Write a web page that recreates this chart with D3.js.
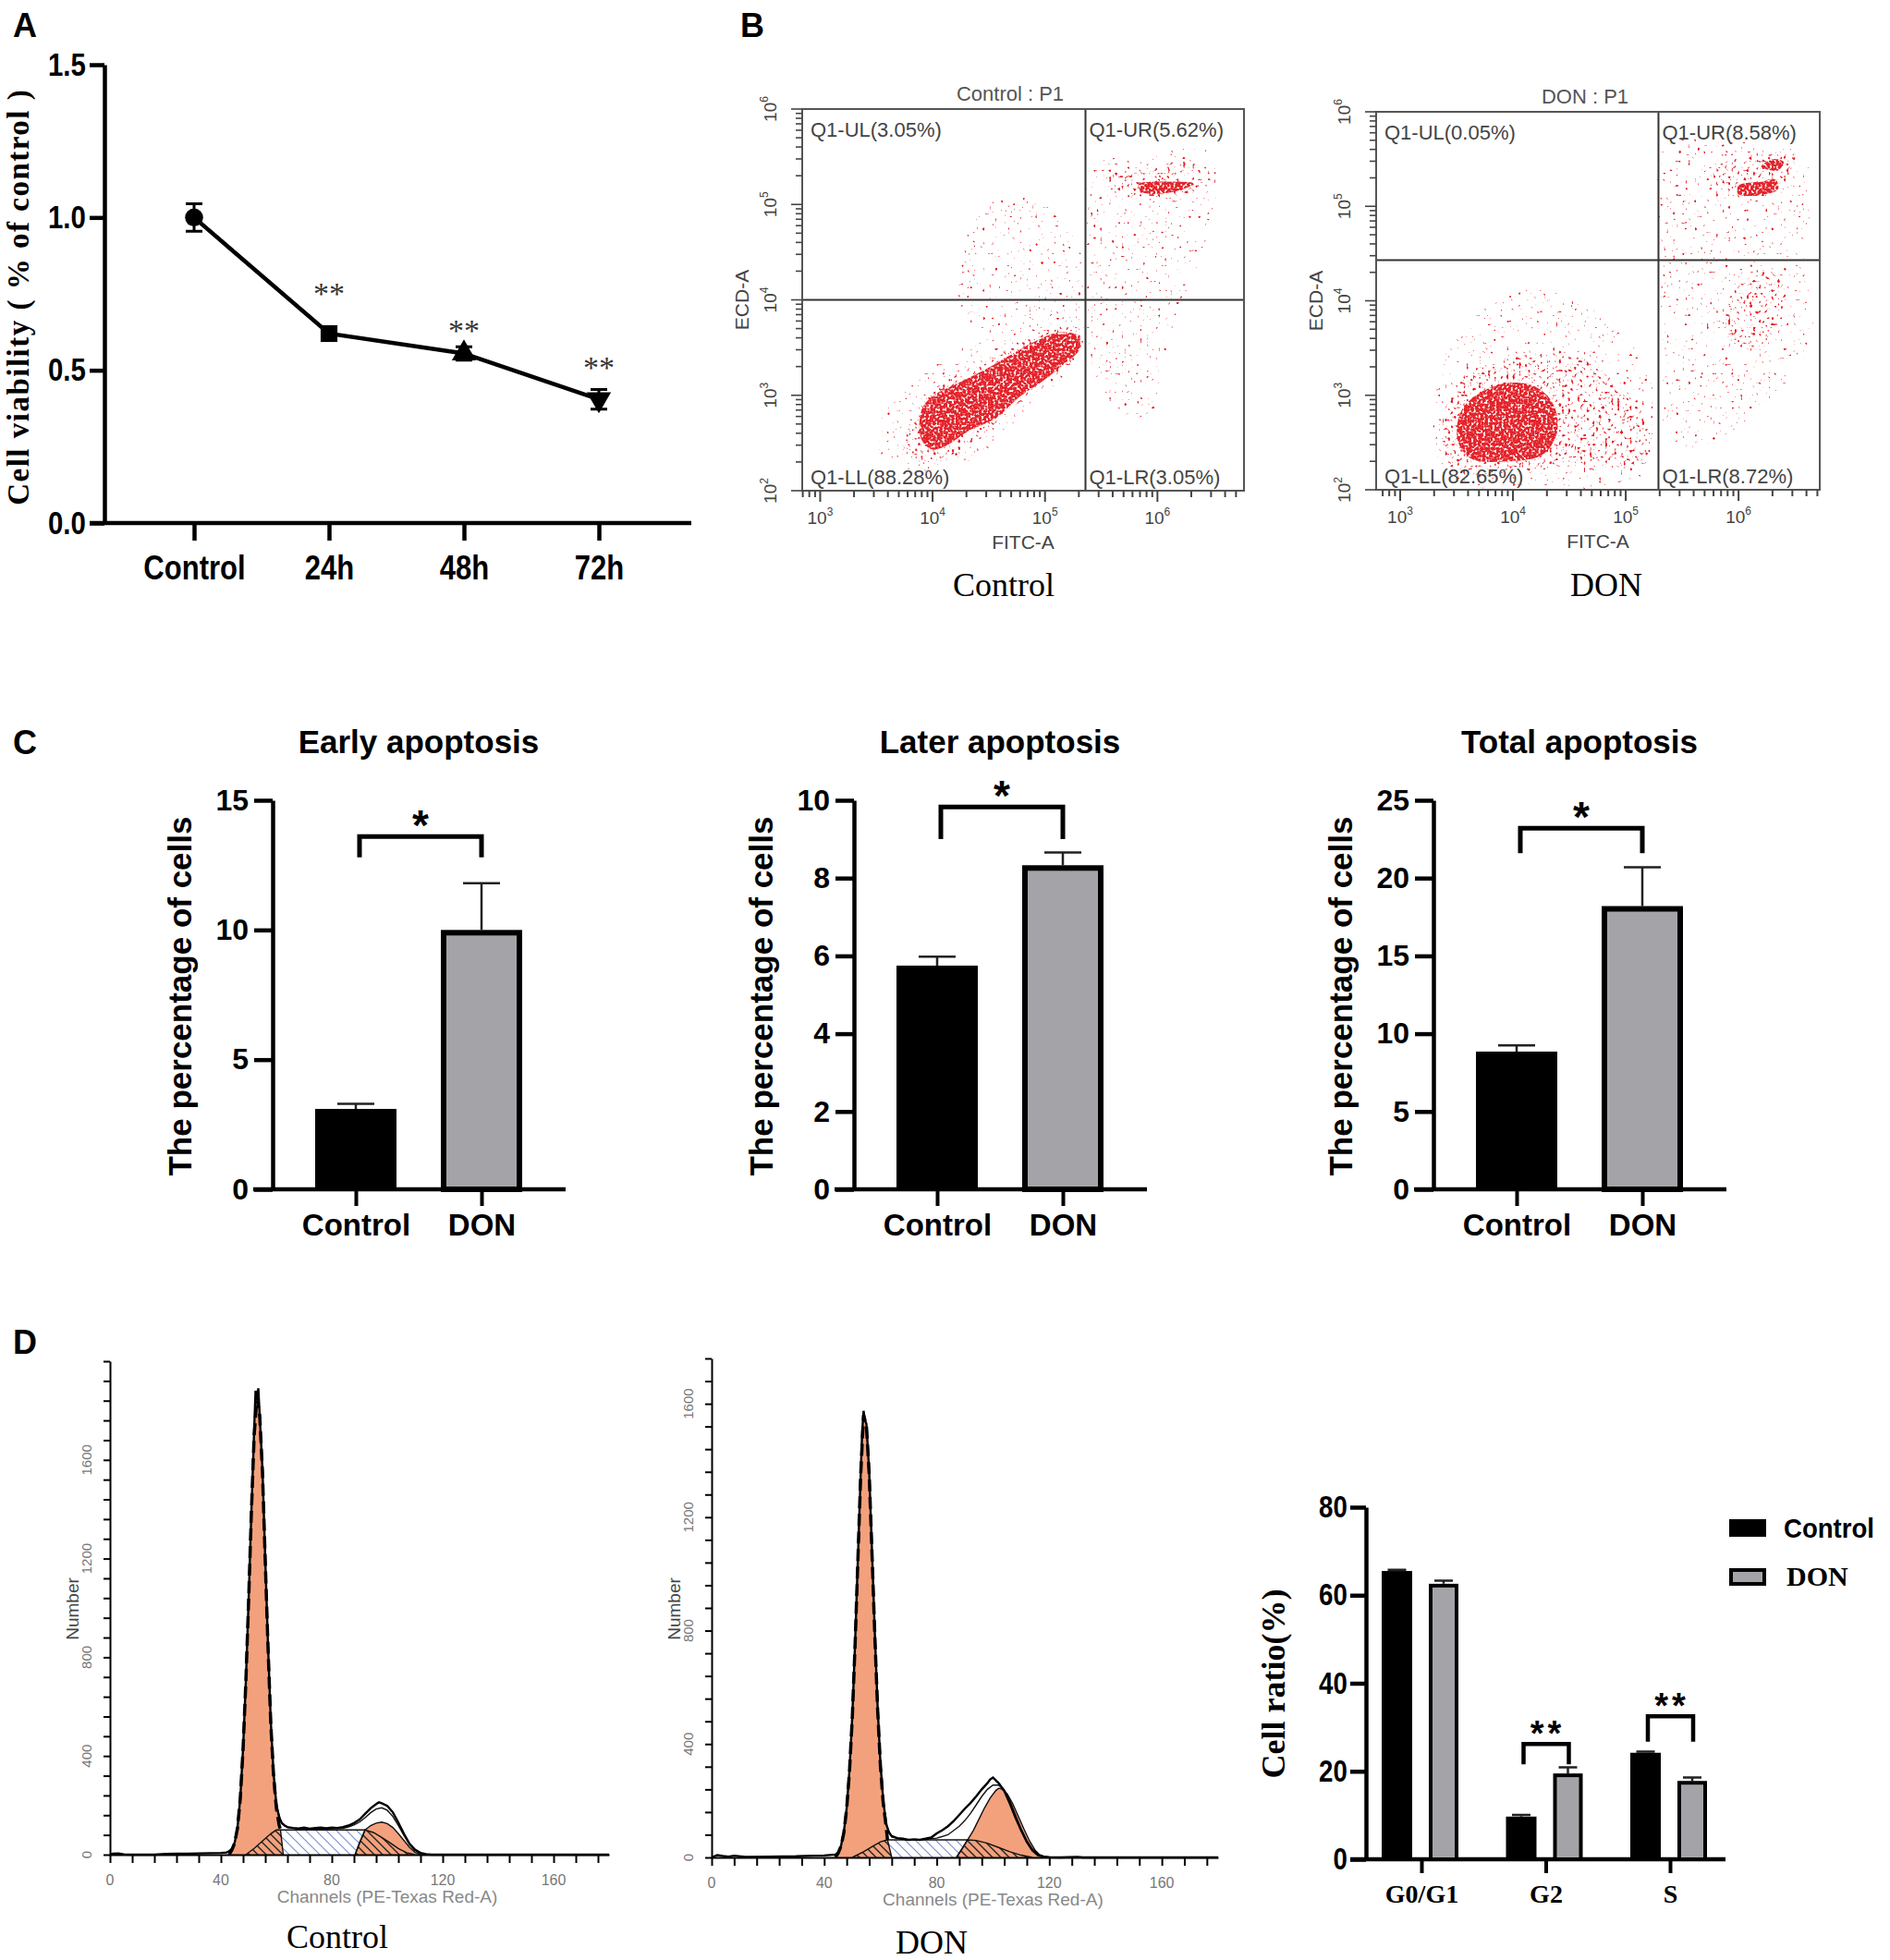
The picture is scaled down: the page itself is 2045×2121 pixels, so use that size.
<!DOCTYPE html>
<html>
<head>
<meta charset="utf-8">
<script src="https://cdn.jsdelivr.net/npm/d3@7"></script>
<style>
  body { margin: 0; background: #fff; }
</style>
</head>
<body>
<div id="fig"></div>
<script>
// ---------------- data ----------------

// A: cell viability
const viabGroups = ["Control", "24h", "48h", "72h"];
const viabMean = [1.0, 0.62, 0.555, 0.405];
const viabErr = [0.045, 0.015, 0.022, 0.032];
const viabStarAt = [null, 0.77, 0.65, 0.53];
const viabTicks = [0, 0.5, 1.0, 1.5];

// B: annexin V / PI flow plots, all in log10 units
const flowNames = ["Control", "DON"];
const flowTitles = ["Control : P1", "DON : P1"];
const flowQuads = [
  ["Q1-UL(3.05%)", "Q1-UR(5.62%)", "Q1-LL(88.28%)", "Q1-LR(3.05%)"],
  ["Q1-UL(0.05%)", "Q1-UR(8.58%)", "Q1-LL(82.65%)", "Q1-LR(8.72%)"]
];
const flowGates = [[5.36, 4.0], [5.29, 4.43]];
const flowXRange = [[2.84, 6.77], [2.787, 6.72]];
const flowYRange = [2, 6];

const ctrlSparse = [
  [[4.25,4.48],[4.44,4.96],[4.75,5.08],[5.07,4.93],[5.32,4.48],[5.34,3.96],[5.20,3.66],[4.82,3.62],[4.44,3.66],[4.22,4.03]],
  [[5.38,5.37],[5.83,5.52],[6.46,5.56],[6.52,5.08],[6.39,4.48],[6.14,3.73],[6.02,3.21],[5.95,2.80],[5.76,2.76],[5.51,3.03],[5.38,3.58],[5.37,4.70]],
  [[3.55,2.76],[3.81,3.10],[4.18,3.44],[4.56,3.66],[5.04,3.85],[5.32,3.81],[5.34,3.47],[5.13,3.14],[4.82,2.84],[4.56,2.50],[4.25,2.28],[3.81,2.21],[3.55,2.35]]
];
const ctrlMedium = [
  [[5.57,5.30],[5.89,5.37],[6.33,5.45],[6.39,5.22],[6.27,5.11],[5.83,5.08],[5.57,5.11]],
  [[3.75,2.60],[3.90,2.90],[4.20,3.20],[4.60,3.45],[5.00,3.65],[5.30,3.70],[5.32,3.45],[5.00,3.15],[4.70,2.85],[4.40,2.55],[4.10,2.30],[3.85,2.30]]
];
const ctrlDense = [
  [[3.90,2.84],[4.00,2.99],[4.25,3.14],[4.50,3.29],[4.72,3.44],[4.94,3.58],[5.13,3.66],[5.30,3.62],[5.30,3.47],[5.16,3.32],[4.97,3.14],[4.78,2.99],[4.56,2.76],[4.31,2.62],[4.12,2.47],[4.00,2.43],[3.90,2.54]],
  [[5.83,5.21],[6.08,5.24],[6.33,5.22],[6.14,5.13],[5.86,5.13]]
];

const donSparse = [
  [[3.47,3.59],[3.79,3.97],[4.26,4.12],[4.89,3.74],[5.21,3.21],[5.24,2.80],[5.20,2.20],[3.40,2.15],[3.30,2.90]],
  [[5.34,5.64],[5.84,5.68],[6.57,5.53],[6.60,4.35],[6.66,3.59],[6.47,3.21],[6.16,2.83],[5.91,2.60],[5.53,2.45],[5.34,2.64],[5.32,4.35]]
];
const donMedium = [
  [[3.38,2.75],[3.57,3.21],[3.88,3.36],[4.26,3.44],[4.58,3.40],[4.83,3.21],[5.05,2.98],[5.21,2.64],[5.15,2.30],[4.58,2.26],[3.95,2.18],[3.44,2.22]],
  [[5.78,5.40],[5.95,5.50],[6.25,5.55],[6.50,5.52],[6.45,5.35],[6.30,5.15],[6.05,5.08],[5.85,5.15]],
  [[5.90,4.00],[6.10,4.25],[6.30,4.30],[6.42,4.05],[6.35,3.75],[6.15,3.50],[5.95,3.55],[5.85,3.80]]
];
const donDense = [
  [[3.54,2.83],[3.70,3.02],[3.95,3.13],[4.20,3.09],[4.36,2.90],[4.39,2.60],[4.26,2.37],[3.95,2.30],[3.63,2.33],[3.51,2.52]],
  [[6.00,5.13],[6.00,5.22],[6.20,5.26],[6.33,5.28],[6.35,5.18],[6.20,5.12]],
  [[6.20,5.42],[6.30,5.50],[6.40,5.47],[6.35,5.38]]
];

// C: apoptosis bars
const apoGroups = ["Control", "DON"];
const apoTitles = ["Early apoptosis", "Later apoptosis", "Total apoptosis"];
const apoMean = [[3.1, 10.0], [5.75, 8.33], [8.85, 18.2]];
const apoErr = [[0.2, 1.8], [0.23, 0.33], [0.4, 2.5]];
const apoMax = [15, 10, 25];
const apoStep = [5, 2, 5];
const apoBracket = [[13.6, 12.8], [9.83, 9.0], [23.2, 21.6]];

// D: DNA content histograms [channel, number]
const ctrlHist = [[0,0],[1,4],[3,5],[5,1],[8,0],[16,0],[20,3],[24,4],[28,4],[32,5],[36,6],[40,7],[42,9],[43,14],[44,24],[45,50],[46,110],[47,230],[48,430],[49,700],[50,1030],[51,1390],[52,1720],[52.5,1880],[53,1850],[53.5,1890],[54,1780],[55,1560],[56,1200],[57,850],[58,540],[59,330],[60,205],[61,150],[62,128],[63,118],[64,112],[66,108],[68,106],[70,110],[72,105],[74,108],[76,110],[78,107],[80,110],[82,108],[84,112],[86,118],[88,128],[90,142],[92,165],[94,188],[96,205],[97,212],[98,208],[100,198],[102,172],[104,130],[106,85],[108,45],[110,20],[112,7],[114,2],[116,0],[180,0]];
const ctrlFit = [[60,200],[62,125],[64,110],[68,105],[72,104],[76,104],[80,105],[84,107],[86,112],[88,120],[90,132],[92,150],[94,170],[96,185],[98,190],[100,180],[102,155],[104,118],[106,78],[108,42],[110,18],[112,5],[114,0]];
const ctrlG1 = [[43,0],[44,20],[45,48],[46,108],[47,228],[48,428],[49,698],[50,1028],[51,1388],[52,1700],[53,1850],[54,1780],[55,1550],[56,1190],[57,840],[58,530],[59,320],[60,190],[61,120],[61.5,100],[62.5,0]];
const ctrlG2 = [[88.4,0],[90,50],[92,100],[94,118],[96,128],[98,132],[100,126],[102,110],[104,85],[106,58],[108,30],[110,10],[112,0]];
const ctrlSLeft = [[49,0],[52,25],[55,55],[58,85],[60,100],[61.5,100],[62.5,0]];
const ctrlSMid = [[61.5,100],[92,100],[88.4,0],[62.5,0]];
const ctrlSRight = [[88.4,0],[92,100],[95,90],[98,70],[101,48],[104,25],[107,8],[110,0]];

const donHist = [[0,0],[2,8],[4,5],[6,3],[8,6],[12,2],[20,3],[30,4],[36,6],[40,7],[44,10],[45,18],[46,42],[47,90],[48,175],[49,310],[50,500],[51,760],[52,1060],[53,1360],[53.5,1500],[54,1575],[54.5,1540],[55,1530],[56,1360],[57,1080],[58,790],[59,530],[60,330],[61,200],[62,120],[63,88],[64,75],[66,68],[68,66],[70,62],[72,64],[74,62],[76,66],[78,70],[80,85],[82,96],[84,110],[86,128],[88,150],[90,172],[92,192],[94,215],[96,240],[98,262],[99,275],[100,282],[101,272],[102,262],[104,235],[106,190],[108,140],[110,95],[112,55],[114,25],[116,8],[118,3],[120,1],[124,0],[130,2],[132,0],[180,0]];
const donFit = [[62,115],[64,72],[68,64],[72,63],[76,64],[80,68],[84,80],[88,110],[90,130],[92,155],[94,185],[96,215],[98,240],[100,255],[102,255],[104,238],[106,200],[108,150],[110,102],[112,60],[114,30],[116,12],[118,4],[120,0]];
const donG1 = [[44,0],[45,16],[46,40],[47,88],[48,172],[49,305],[50,495],[51,755],[52,1055],[53,1355],[54,1560],[55,1525],[56,1350],[57,1070],[58,780],[59,520],[60,320],[61,190],[62,110],[62.5,62],[64,0]];
const donG2 = [[87,0],[89,30],[91,62],[93,95],[95,135],[97,175],[99,210],[101,236],[102,244],[103,242],[105,225],[107,190],[109,145],[111,100],[113,58],[115,25],[117,5],[118,0]];
const donSLeft = [[50,0],[54,20],[57,38],[60,55],[62.5,62],[64,0]];
const donSMid = [[62.5,62],[91,62],[87,0],[64,0]];
const donSRight = [[87,0],[91,62],[94,60],[98,50],[102,35],[106,20],[110,8],[114,0]];

const histTickStep = 80;
const histLabelY = [0, 400, 800, 1200, 1600];
const histLabelX = [0, 40, 80, 120, 160];

// D: cell cycle bars
const phaseGroups = ["G0/G1", "G2", "S"];
const phaseCtrl = [65.5, 9.7, 24.2];
const phaseCtrlErr = [0.3, 0.4, 0.25];
const phaseDon = [62.6, 19.5, 17.8];
const phaseDonErr = [0.7, 1.4, 0.8];
const phaseSig = ["", "**", "**"];
const phaseBracket = [null, [26.2, 21.6], [32.5, 26.7]];
const phaseTicks = [0, 20, 40, 60, 80];

// ---------------- figure ----------------
const W = 2045, H = 2121;
const SANS = '"Liberation Sans", Arial, sans-serif';
const SERIF = '"Liberation Serif", "Times New Roman", serif';
const ORANGE = "#f3a17c";
const GREY_BAR = "#a4a4a8";
const RED = "#e3232a";
const NARROW_X = 0.84;   // condensed look for the GraphPad-style labels

const svg = d3.select("#fig").append("svg")
  .attr("width", W).attr("height", H)
  .attr("font-family", SANS)
  .style("display", "block");
const defs = svg.append("defs");

// speckle textures for the flow dot clouds
function speckle(id, seed, freq, slope, intercept) {
  const f = defs.append("filter").attr("id", id)
    .attr("filterUnits", "userSpaceOnUse")
    .attr("x", 0).attr("y", 0).attr("width", W).attr("height", 700)
    .attr("color-interpolation-filters", "sRGB");
  f.append("feTurbulence").attr("type", "fractalNoise")
    .attr("baseFrequency", freq).attr("numOctaves", 1).attr("seed", seed).attr("result", "n");
  f.append("feColorMatrix").attr("in", "n").attr("type", "matrix")
    .attr("values", "0 0 0 0 0  0 0 0 0 0  0 0 0 0 0  1 0 0 0 0").attr("result", "a");
  f.append("feComponentTransfer").attr("in", "a").attr("result", "m")
    .append("feFuncA").attr("type", "linear").attr("slope", slope).attr("intercept", intercept);
  f.append("feComposite").attr("in", "SourceGraphic").attr("in2", "m").attr("operator", "in");
}
speckle("spkSparse", 4, 0.3, 14, -9.55);
speckle("spkMed", 9, 0.3, 10, -6.1);
speckle("spkDense", 13, 0.4, 6, -2.0);

// hatch patterns for the histogram model
function hatch(id, size, color, width) {
  const p = defs.append("pattern").attr("id", id)
    .attr("patternUnits", "userSpaceOnUse").attr("width", size).attr("height", size);
  p.append("path")
    .attr("d", `M0,0L${size},${size}M${-size/2},${size/2}L${size/2},${size*1.5}M${size/2},${-size/2}L${size*1.5},${size/2}`)
    .attr("stroke", color).attr("stroke-width", width);
}
hatch("hatchBlue", 11, "#7f90d4", 1.2);
hatch("hatchBlack", 9, "#222", 1.4);

function styleAxis(ax, sw, font, size, narrow) {
  ax.selectAll("line").attr("stroke", "#000").attr("stroke-width", sw);
  ax.select(".domain").attr("stroke", "#000").attr("stroke-width", sw);
  const t = ax.selectAll("text").attr("font-family", font).attr("font-size", size)
    .attr("font-weight", "bold").attr("fill", "#000");
  if (narrow) t.attr("transform", `scale(${NARROW_X},1)`);
}

// panel letters
[["A", 14, 40], ["B", 801, 40], ["C", 14, 816], ["D", 14, 1465]].forEach(([t, x, y]) => {
  svg.append("text").attr("x", x).attr("y", y).attr("font-size", 36)
    .attr("font-weight", "bold").text(t);
});

// ================= A: viability line =================
const gA = svg.append("g");
const aX = d3.scalePoint().domain(viabGroups).range([210, 648]);
const aY = d3.scaleLinear().domain([0, 1.5]).range([566, 70]);

gA.append("g").attr("transform", "translate(113,0)")
  .call(d3.axisLeft(aY).tickValues(viabTicks).tickFormat(d3.format(".1f"))
    .tickSize(16).tickSizeOuter(0).tickPadding(8))
  .call(ax => styleAxis(ax, 4.5, SANS, 35, true));
gA.append("line").attr("x1", 97).attr("x2", 748)
  .attr("y1", aY(0)).attr("y2", aY(0))
  .attr("stroke", "#000").attr("stroke-width", 4.5);
gA.append("g").attr("transform", `translate(0,${aY(0)})`)
  .call(d3.axisBottom(aX).tickSize(19).tickPadding(16))
  .call(ax => { ax.select(".domain").remove(); styleAxis(ax, 4.5, SANS, 37, true); });

gA.append("text")
  .attr("transform", `translate(31,${aY(0.74)}) rotate(-90)`)
  .attr("text-anchor", "middle").attr("font-family", SERIF)
  .attr("font-weight", "bold").attr("font-size", 33).attr("letter-spacing", 1.5)
  .text("Cell viability ( % of control )");

const viab = viabGroups.map((g, i) => ({ g, v: viabMean[i], e: viabErr[i], s: viabStarAt[i] }));
gA.append("path").datum(viab)
  .attr("fill", "none").attr("stroke", "#000").attr("stroke-width", 4.5)
  .attr("d", d3.line().x(d => aX(d.g)).y(d => aY(d.v)));
gA.selectAll(".eb").data(viab).join("path")
  .attr("fill", "none").attr("stroke", "#000").attr("stroke-width", 3)
  .attr("d", d => `M${aX(d.g)},${aY(d.v - d.e)}V${aY(d.v + d.e)}` +
    `M${aX(d.g) - 9},${aY(d.v - d.e)}H${aX(d.g) + 9}M${aX(d.g) - 9},${aY(d.v + d.e)}H${aX(d.g) + 9}`);
const markers = [d3.symbolCircle, d3.symbolSquare, d3.symbolTriangle, d3.symbolTriangle];
gA.selectAll(".mk").data(viab).join("path")
  .attr("transform", (d, i) => `translate(${aX(d.g)},${aY(d.v)})` + (i === 3 ? " rotate(180)" : ""))
  .attr("d", (d, i) => d3.symbol().type(markers[i]).size(i === 0 ? 300 : i === 1 ? 330 : 300)())
  .attr("fill", "#000");
gA.selectAll(".st").data(viab.filter(d => d.s !== null)).join("text")
  .attr("x", d => aX(d.g)).attr("y", d => aY(d.s) + 18)
  .attr("text-anchor", "middle").attr("font-family", SERIF)
  .attr("font-size", 34).attr("fill", "#333").text("**");

// ================= B: flow plots =================
const flowBoxes = [
  { x0: 868, x1: 1346, y0: 118, y1: 531, nameX: 1086 },
  { x0: 1489, x1: 1969, y0: 121, y1: 530, nameX: 1738 }
];
const flowClouds = [[ctrlSparse, ctrlMedium, ctrlDense], [donSparse, donMedium, donDense]];

function supLabel(sel, e) {
  sel.append("tspan").text("10");
  sel.append("tspan").attr("dy", -9).attr("font-size", 12).text(e);
}

flowBoxes.forEach((box, i) => {
  const g = svg.append("g");
  const x = d3.scaleLog().domain(flowXRange[i].map(v => 10 ** v)).range([box.x0, box.x1]);
  const y = d3.scaleLog().domain(flowYRange.map(v => 10 ** v)).range([box.y1, box.y0]);
  const clipId = "flowClip" + i;
  defs.append("clipPath").attr("id", clipId).append("rect")
    .attr("x", box.x0).attr("y", box.y0)
    .attr("width", box.x1 - box.x0).attr("height", box.y1 - box.y0);

  const poly = d3.line().x(p => x(10 ** p[0])).y(p => y(10 ** p[1]))
    .curve(d3.curveCatmullRomClosed.alpha(0.5));
  const cloud = g.append("g").attr("clip-path", `url(#${clipId})`);
  const [sparse, medium, dense] = flowClouds[i];
  cloud.selectAll(".sp").data(sparse).join("path")
    .attr("d", poly).attr("fill", RED).attr("filter", "url(#spkSparse)");
  cloud.selectAll(".md").data(medium).join("path")
    .attr("d", poly).attr("fill", RED).attr("filter", "url(#spkMed)");
  cloud.selectAll(".dn").data(dense).join("path")
    .attr("d", poly).attr("fill", RED).attr("filter", "url(#spkDense)");

  // quadrant gates
  const gx = x(10 ** flowGates[i][0]), gy = y(10 ** flowGates[i][1]);
  g.append("line").attr("x1", gx).attr("x2", gx).attr("y1", box.y0).attr("y2", box.y1)
    .attr("stroke", "#333").attr("stroke-width", 2);
  g.append("line").attr("x1", box.x0).attr("x2", box.x1).attr("y1", gy).attr("y2", gy)
    .attr("stroke", "#333").attr("stroke-width", 2);
  g.append("rect").attr("x", box.x0).attr("y", box.y0)
    .attr("width", box.x1 - box.x0).attr("height", box.y1 - box.y0)
    .attr("fill", "none").attr("stroke", "#555").attr("stroke-width", 2);

  // log ticks
  const isMajor = v => Math.abs(Math.log10(v) - Math.round(Math.log10(v))) < 1e-6;
  const xt = x.ticks().filter(v => x(v) >= box.x0 - 0.5 && x(v) <= box.x1 + 0.5);
  g.selectAll(".xt").data(xt).join("line")
    .attr("x1", d => x(d)).attr("x2", d => x(d))
    .attr("y1", box.y1).attr("y2", d => box.y1 + (isMajor(d) ? 12 : 7))
    .attr("stroke", "#444").attr("stroke-width", 2);
  const yt = y.ticks();
  g.selectAll(".yt").data(yt).join("line")
    .attr("y1", d => y(d)).attr("y2", d => y(d))
    .attr("x1", box.x0).attr("x2", d => box.x0 - (isMajor(d) ? 12 : 7))
    .attr("stroke", "#444").attr("stroke-width", 1.6);

  g.selectAll(".xl").data(xt.filter(isMajor)).join("text")
    .attr("x", d => x(d)).attr("y", box.y1 + 36)
    .attr("text-anchor", "middle").attr("font-size", 19).attr("fill", "#444")
    .each(function (d) { supLabel(d3.select(this), Math.round(Math.log10(d))); });
  g.selectAll(".yl").data(yt.filter(isMajor)).join("text")
    .attr("transform", d => `translate(${box.x0 - 28},${y(d)}) rotate(-90)`)
    .attr("text-anchor", "middle").attr("font-size", 19).attr("fill", "#444")
    .each(function (d) { supLabel(d3.select(this), Math.round(Math.log10(d))); });

  // labels
  g.append("text").attr("x", (box.x0 + box.x1) / 2 - 14).attr("y", box.y0 - 9)
    .attr("text-anchor", "middle").attr("font-size", 22).attr("fill", "#555")
    .text(flowTitles[i]);
  const q = flowQuads[i];
  const qAttr = (t, xx, yy) => g.append("text").attr("x", xx).attr("y", yy)
    .attr("font-size", 22).attr("fill", "#444").text(t);
  qAttr(q[0], box.x0 + 9, box.y0 + 30);
  qAttr(q[1], gx + 4, box.y0 + 30);
  qAttr(q[2], box.x0 + 9, box.y1 - 7);
  qAttr(q[3], gx + 4, box.y1 - 7);
  g.append("text").attr("x", (box.x0 + box.x1) / 2).attr("y", box.y1 + 63)
    .attr("text-anchor", "middle").attr("font-size", 21).attr("fill", "#444").text("FITC-A");
  g.append("text").attr("transform", `translate(${box.x0 - 58},${y(1e4)}) rotate(-90)`)
    .attr("text-anchor", "middle").attr("font-size", 21).attr("fill", "#444").text("ECD-A");
  g.append("text").attr("x", box.nameX).attr("y", 645)
    .attr("text-anchor", "middle").attr("font-family", SERIF).attr("font-size", 36)
    .text(flowNames[i]);
});

// ================= C: apoptosis bars =================
[295, 924, 1551].forEach((x0, i) => {
  const g = svg.append("g");
  const y = d3.scaleLinear().domain([0, apoMax[i]]).range([1287, 866]);
  const x = d3.scalePoint().domain(apoGroups).range([x0 + 90, x0 + 226]);

  g.append("text").attr("x", x0 + 158).attr("y", 815).attr("text-anchor", "middle")
    .attr("font-size", 35).attr("font-weight", "bold").text(apoTitles[i]);

  g.append("g").attr("transform", `translate(${x0},0)`)
    .call(d3.axisLeft(y).tickValues(d3.range(0, apoMax[i] + 0.001, apoStep[i]))
      .tickSize(20).tickSizeOuter(0).tickPadding(6))
    .call(ax => styleAxis(ax, 4.5, SANS, 32));
  g.append("line").attr("x1", x0 - 21).attr("x2", x0 + 317)
    .attr("y1", y(0)).attr("y2", y(0)).attr("stroke", "#000").attr("stroke-width", 4.5);
  g.append("g").attr("transform", `translate(0,${y(0)})`)
    .call(d3.axisBottom(x).tickSize(18).tickPadding(9))
    .call(ax => { ax.select(".domain").remove(); styleAxis(ax, 4, SANS, 33); });

  g.append("text").attr("transform", `translate(${x0 - 88},1078) rotate(-90)`)
    .attr("text-anchor", "middle").attr("font-size", 35).attr("font-weight", "bold")
    .text("The percentage of cells");

  const bars = apoGroups.map((k, j) => ({ k, v: apoMean[i][j], e: apoErr[i][j] }));
  g.selectAll(".err").data(bars).join("path")
    .attr("fill", "none").attr("stroke", "#222").attr("stroke-width", 2.5)
    .attr("d", d => `M${x(d.k)},${y(d.v)}V${y(d.v + d.e)}M${x(d.k) - 20},${y(d.v + d.e)}H${x(d.k) + 20}`);
  g.selectAll(".bar").data(bars).join("rect")
    .attr("x", (d, j) => x(d.k) - (j ? 41 : 44))
    .attr("width", (d, j) => j ? 82 : 88)
    .attr("y", (d, j) => y(d.v) + (j ? 3 : 0))
    .attr("height", (d, j) => y(0) - y(d.v) - (j ? 3 : 0))
    .attr("fill", (d, j) => j ? GREY_BAR : "#000")
    .attr("stroke", "#000").attr("stroke-width", (d, j) => j ? 6 : 0);

  const b = apoBracket[i];
  const xl = x("Control") + 4, xr = x("DON");
  g.append("path").attr("fill", "none").attr("stroke", "#000").attr("stroke-width", 5)
    .attr("d", `M${xl},${y(b[1])}V${y(b[0])}H${xr}V${y(b[1])}`);
  g.append("text").attr("x", (xl + xr) / 2).attr("y", y(b[0]) + 4)
    .attr("text-anchor", "middle").attr("font-size", 46).attr("font-weight", "bold").text("*");
});

// ================= D: histograms =================
const histSets = [
  { total: ctrlHist, fit: ctrlFit, g1: ctrlG1, g2: ctrlG2, sl: ctrlSLeft, sm: ctrlSMid, sr: ctrlSRight,
    x: d3.scaleLinear().domain([0, 180]).range([119, 659]),
    y: d3.scaleLinear().domain([0, 2000]).range([2007, 1473]), name: "Control", nameX: 365, nameY: 2108 },
  { total: donHist, fit: donFit, g1: donG1, g2: donG2, sl: donSLeft, sm: donSMid, sr: donSRight,
    x: d3.scaleLinear().domain([0, 180]).range([770, 1318]),
    y: d3.scaleLinear().domain([0, 1760]).range([2010, 1470]), name: "DON", nameX: 1008, nameY: 2114 }
];

histSets.forEach(h => {
  const g = svg.append("g");
  const x = h.x, y = h.y;
  const line = d3.line().x(d => x(d[0])).y(d => y(d[1]));
  const area = pts => line(pts) + "Z";

  g.append("path").attr("d", area(h.g1)).attr("fill", ORANGE);
  g.append("path").attr("d", area(h.g2)).attr("fill", ORANGE);
  g.append("path").attr("d", area(h.sm)).attr("fill", "url(#hatchBlue)");
  g.append("path").attr("d", area(h.sl)).attr("fill", "url(#hatchBlack)");
  g.append("path").attr("d", area(h.sr)).attr("fill", "url(#hatchBlack)");
  [h.sl, h.sr, h.sm.slice(0, 2), h.g2].forEach(p => {
    g.append("path").attr("d", line(p)).attr("fill", "none")
      .attr("stroke", "#111").attr("stroke-width", 1.4);
  });
  g.append("path").attr("d", line(h.fit)).attr("fill", "none")
    .attr("stroke", "#111").attr("stroke-width", 1.4);
  g.append("path").attr("d", line(h.total)).attr("fill", "none")
    .attr("stroke", "#000").attr("stroke-width", 2.4);
  g.append("path").attr("d", line(h.g1.slice(0, -1))).attr("fill", "none")
    .attr("stroke", "#000").attr("stroke-width", 3.5).attr("stroke-dasharray", "13,6");

  const yMax = y.domain()[1];
  g.append("g").attr("transform", `translate(${x(0)},0)`)
    .call(d3.axisLeft(y).tickValues(d3.range(0, yMax + 1, histTickStep)).tickFormat("").tickSize(7).tickSizeOuter(0))
    .call(ax => { ax.selectAll("line,.domain").attr("stroke", "#000").attr("stroke-width", 2); });
  g.append("g").attr("transform", `translate(0,${y(0)})`)
    .call(d3.axisBottom(x).tickValues(d3.range(0, 181, 8)).tickFormat("").tickSize(9).tickSizeOuter(0))
    .call(ax => { ax.selectAll("line,.domain").attr("stroke", "#000").attr("stroke-width", 2); });

  g.selectAll(".yl").data(histLabelY).join("text")
    .attr("transform", d => `translate(${x(0) - 20},${y(d)}) rotate(-90)`)
    .attr("text-anchor", "middle").attr("font-size", 15).attr("fill", "#777").text(d => d);
  g.selectAll(".xl").data(histLabelX).join("text")
    .attr("x", d => x(d)).attr("y", y(0) + 33)
    .attr("text-anchor", "middle").attr("font-size", 16).attr("fill", "#777").text(d => d);
  g.append("text").attr("x", x(100)).attr("y", y(0) + 52)
    .attr("text-anchor", "middle").attr("font-size", 19).attr("fill", "#888")
    .text("Channels (PE-Texas Red-A)");
  g.append("text").attr("transform", `translate(${x(0) - 34},1741) rotate(-90)`)
    .attr("text-anchor", "middle").attr("font-size", 19).attr("fill", "#444").text("Number");
  g.append("text").attr("x", h.nameX).attr("y", h.nameY)
    .attr("text-anchor", "middle").attr("font-family", SERIF).attr("font-size", 36).text(h.name);
});

// ================= D: cell cycle bars =================
const gD = svg.append("g");
const dY = d3.scaleLinear().domain([0, 80]).range([2012, 1631]);
const dX = d3.scalePoint().domain(phaseGroups).range([1538, 1807]);

gD.append("g").attr("transform", "translate(1478,0)")
  .call(d3.axisLeft(dY).tickValues(phaseTicks).tickSize(17).tickSizeOuter(0).tickPadding(7))
  .call(ax => styleAxis(ax, 4.5, SANS, 33, true));
gD.append("line").attr("x1", 1461).attr("x2", 1867)
  .attr("y1", dY(0)).attr("y2", dY(0)).attr("stroke", "#000").attr("stroke-width", 4.5);
gD.append("g").attr("transform", `translate(0,${dY(0)})`)
  .call(d3.axisBottom(dX).tickSize(15).tickPadding(12))
  .call(ax => { ax.select(".domain").remove(); styleAxis(ax, 4, SERIF, 28); });
gD.append("text").attr("transform", "translate(1390,1822) rotate(-90)")
  .attr("text-anchor", "middle").attr("font-family", SERIF).attr("font-weight", "bold")
  .attr("font-size", 36).text("Cell ratio(%)");

const phase = phaseGroups.map((k, i) => ({ k, c: phaseCtrl[i], ce: phaseCtrlErr[i], d: phaseDon[i], de: phaseDonErr[i] }));
const errPath = (cx, v, e) => `M${cx},${dY(v)}V${dY(v + e)}M${cx - 10},${dY(v + e)}H${cx + 10}`;
gD.selectAll(".ec").data(phase).join("path")
  .attr("fill", "none").attr("stroke", "#222").attr("stroke-width", 2.5)
  .attr("d", d => errPath(dX(d.k) - 26.5, d.c, d.ce) + errPath(dX(d.k) + 24, d.d, d.de));
gD.selectAll(".bc").data(phase).join("rect")
  .attr("x", d => dX(d.k) - 43).attr("width", 33)
  .attr("y", d => dY(d.c)).attr("height", d => dY(0) - dY(d.c)).attr("fill", "#000");
gD.selectAll(".bd").data(phase).join("rect")
  .attr("x", d => dX(d.k) + 10).attr("width", 28)
  .attr("y", d => dY(d.d) + 2).attr("height", d => dY(0) - dY(d.d) - 2)
  .attr("fill", GREY_BAR).attr("stroke", "#000").attr("stroke-width", 4);

phaseGroups.forEach((k, i) => {
  const b = phaseBracket[i];
  if (!b) return;
  const xl = dX(k) - 24, xr = dX(k) + 25;
  gD.append("path").attr("fill", "none").attr("stroke", "#000").attr("stroke-width", 4.5)
    .attr("d", `M${xl},${dY(b[1])}V${dY(b[0])}H${xr}V${dY(b[1])}`);
  gD.append("text").attr("x", dX(k) + 2).attr("y", dY(b[0]) + 2)
    .attr("text-anchor", "middle").attr("font-size", 38).attr("font-weight", "bold")
    .attr("letter-spacing", 4).text(phaseSig[i]);
});

// legend
gD.append("rect").attr("x", 1871).attr("y", 1644).attr("width", 40).attr("height", 19).attr("fill", "#000");
gD.append("rect").attr("x", 1873).attr("y", 1699).attr("width", 36).attr("height", 15)
  .attr("fill", GREY_BAR).attr("stroke", "#000").attr("stroke-width", 4);
gD.append("text").attr("x", 1930).attr("y", 1664)
  .attr("font-weight", "bold").attr("font-size", 30)
  .attr("textLength", 98).attr("lengthAdjust", "spacingAndGlyphs").text("Control");
gD.append("text").attr("x", 1933).attr("y", 1716).attr("font-family", SERIF)
  .attr("font-weight", "bold").attr("font-size", 30).text("DON");
</script>
</body>
</html>
